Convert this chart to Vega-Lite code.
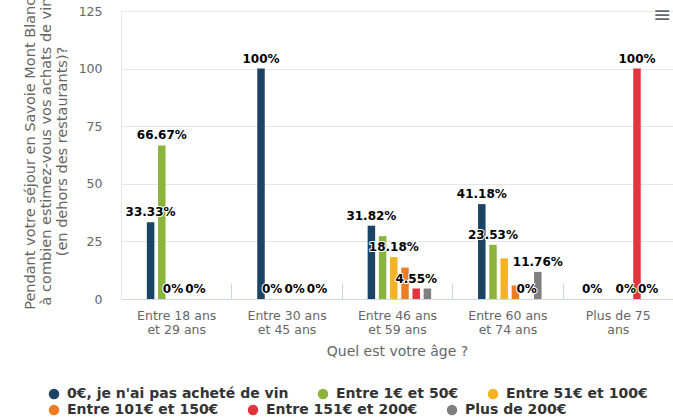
{
  "$schema": "https://vega.github.io/schema/vega-lite/v6.json",
  "width": 552,
  "height": 288,
  "autosize": {"type": "none"},
  "padding": {"left": 121, "top": 11, "right": 0, "bottom": 119},
  "background": "white",
  "config": {
    "font": "DejaVu Sans",
    "view": {"stroke": null},
    "title": {"fontWeight": "normal"}
  },
  "title": {"text": "≡", "anchor": "end", "fontSize": 22, "color": "#666666", "dy": 38, "dx": -2},
  "data": {
    "values": [
      {"age": "Entre 18 ans et 29 ans", "spend": "0€, je n'ai pas acheté de vin", "value": 33.33, "show": true},
      {"age": "Entre 18 ans et 29 ans", "spend": "Entre 1€ et 50€", "value": 66.67, "show": true},
      {"age": "Entre 18 ans et 29 ans", "spend": "Entre 51€ et 100€", "value": 0, "show": true},
      {"age": "Entre 18 ans et 29 ans", "spend": "Entre 101€ et 150€", "value": 0, "show": false},
      {"age": "Entre 18 ans et 29 ans", "spend": "Entre 151€ et 200€", "value": 0, "show": true},
      {"age": "Entre 18 ans et 29 ans", "spend": "Plus de 200€", "value": 0, "show": false},
      {"age": "Entre 30 ans et 45 ans", "spend": "0€, je n'ai pas acheté de vin", "value": 100, "show": true},
      {"age": "Entre 30 ans et 45 ans", "spend": "Entre 1€ et 50€", "value": 0, "show": true},
      {"age": "Entre 30 ans et 45 ans", "spend": "Entre 51€ et 100€", "value": 0, "show": false},
      {"age": "Entre 30 ans et 45 ans", "spend": "Entre 101€ et 150€", "value": 0, "show": true},
      {"age": "Entre 30 ans et 45 ans", "spend": "Entre 151€ et 200€", "value": 0, "show": false},
      {"age": "Entre 30 ans et 45 ans", "spend": "Plus de 200€", "value": 0, "show": true},
      {"age": "Entre 46 ans et 59 ans", "spend": "0€, je n'ai pas acheté de vin", "value": 31.82, "show": true},
      {"age": "Entre 46 ans et 59 ans", "spend": "Entre 1€ et 50€", "value": 27.27, "show": false},
      {"age": "Entre 46 ans et 59 ans", "spend": "Entre 51€ et 100€", "value": 18.18, "show": true},
      {"age": "Entre 46 ans et 59 ans", "spend": "Entre 101€ et 150€", "value": 13.64, "show": false},
      {"age": "Entre 46 ans et 59 ans", "spend": "Entre 151€ et 200€", "value": 4.55, "show": true},
      {"age": "Entre 46 ans et 59 ans", "spend": "Plus de 200€", "value": 4.55, "show": false},
      {"age": "Entre 60 ans et 74 ans", "spend": "0€, je n'ai pas acheté de vin", "value": 41.18, "show": true},
      {"age": "Entre 60 ans et 74 ans", "spend": "Entre 1€ et 50€", "value": 23.53, "show": true},
      {"age": "Entre 60 ans et 74 ans", "spend": "Entre 51€ et 100€", "value": 17.65, "show": false},
      {"age": "Entre 60 ans et 74 ans", "spend": "Entre 101€ et 150€", "value": 5.88, "show": false},
      {"age": "Entre 60 ans et 74 ans", "spend": "Entre 151€ et 200€", "value": 0, "show": true},
      {"age": "Entre 60 ans et 74 ans", "spend": "Plus de 200€", "value": 11.76, "show": true},
      {"age": "Plus de 75 ans", "spend": "0€, je n'ai pas acheté de vin", "value": 0, "show": true},
      {"age": "Plus de 75 ans", "spend": "Entre 1€ et 50€", "value": 0, "show": false},
      {"age": "Plus de 75 ans", "spend": "Entre 51€ et 100€", "value": 0, "show": false},
      {"age": "Plus de 75 ans", "spend": "Entre 101€ et 150€", "value": 0, "show": true},
      {"age": "Plus de 75 ans", "spend": "Entre 151€ et 200€", "value": 100, "show": true},
      {"age": "Plus de 75 ans", "spend": "Plus de 200€", "value": 0, "show": true}
    ]
  },
  "transform": [{"calculate": "format(datum.value, '.2~f') + '%'", "as": "label"}],
  "encoding": {
    "x": {
      "field": "age",
      "type": "nominal",
      "sort": ["Entre 18 ans et 29 ans", "Entre 30 ans et 45 ans", "Entre 46 ans et 59 ans", "Entre 60 ans et 74 ans", "Plus de 75 ans"],
      "scale": {"paddingInner": 0, "paddingOuter": 0},
      "axis": {
        "title": "Quel est votre âge ?",
        "titleFontSize": 14,
        "titleColor": "#666666",
        "titleFontWeight": "normal",
        "titlePadding": 9,
        "labelAngle": 0,
        "labelFontSize": 12.5,
        "labelColor": "#666666",
        "labelLineHeight": 14,
        "labelPadding": 26,
        "labelLimit": 300,
        "labelExpr": "split(replace(replace(datum.label, ' et ', '|et '), ' 75 ', ' 75|'), '|')",
        "tickBand": "extent",
        "tickSize": -16,
        "tickColor": "#ccd6eb",
        "domainColor": "#ccd6eb",
        "grid": false
      }
    },
    "xOffset": {
      "field": "spend",
      "type": "nominal",
      "sort": ["0€, je n'ai pas acheté de vin", "Entre 1€ et 50€", "Entre 51€ et 100€", "Entre 101€ et 150€", "Entre 151€ et 200€", "Plus de 200€"],
      "scale": {"range": [24, 91.2], "paddingInner": 0.33, "paddingOuter": 0.165}
    },
    "y": {
      "field": "value",
      "type": "quantitative",
      "scale": {"domain": [0, 125], "nice": false},
      "axis": {
        "values": [0, 25, 50, 75, 100, 125],
        "title": ["Pendant votre séjour en Savoie Mont Blanc,", "à combien estimez-vous vos achats de vin", "(en dehors des restaurants)?"],
        "titleFontSize": 14.5,
        "titleColor": "#666666",
        "titleFontWeight": "normal",
        "titleLineHeight": 16,
        "titleBaseline": "middle",
        "titleAlign": "center",
        "titleX": -91,
        "titleY": 140,
        "labelFontSize": 12.5,
        "labelColor": "#666666",
        "labelPadding": 19,
        "ticks": false,
        "domain": true,
        "domainColor": "#e6e6e6",
        "gridColor": "#e6e6e6"
      }
    }
  },
  "layer": [
    {
      "mark": {"type": "bar"},
      "encoding": {
        "color": {
          "field": "spend",
          "type": "nominal",
          "sort": ["0€, je n'ai pas acheté de vin", "Entre 1€ et 50€", "Entre 51€ et 100€", "Entre 101€ et 150€", "Entre 151€ et 200€", "Plus de 200€"],
          "scale": {
            "domain": ["0€, je n'ai pas acheté de vin", "Entre 1€ et 50€", "Entre 51€ et 100€", "Entre 101€ et 150€", "Entre 151€ et 200€", "Plus de 200€"],
            "range": ["#1b4364", "#8cb43a", "#f4b224", "#ef7b22", "#e0353d", "#7f7f7f"]
          },
          "legend": {
            "title": null,
            "values": ["0€, je n'ai pas acheté de vin", "Entre 1€ et 50€", "Entre 51€ et 100€"],
            "orient": "none",
            "legendX": -74,
            "legendY": 376,
            "direction": "horizontal",
            "columns": 3,
            "columnPadding": 27,
            "symbolType": "circle",
            "symbolSize": 110,
            "symbolStrokeWidth": 0,
            "symbolOpacity": 1,
            "labelOffset": 6,
            "labelFontSize": 14,
            "labelFontWeight": "bold",
            "labelColor": "#333333",
            "labelLimit": 400
          }
        }
      }
    },
    {
      "transform": [{"filter": {"field": "spend", "oneOf": ["Entre 101€ et 150€", "Entre 151€ et 200€", "Plus de 200€"]}}],
      "mark": {"type": "point", "filled": true, "opacity": 0},
      "encoding": {
        "fill": {
          "field": "spend",
          "type": "nominal",
          "scale": {
            "domain": ["Entre 101€ et 150€", "Entre 151€ et 200€", "Plus de 200€"],
            "range": ["#ef7b22", "#e0353d", "#7f7f7f"]
          },
          "legend": {
            "title": null,
            "orient": "none",
            "legendX": -74,
            "legendY": 392,
            "direction": "horizontal",
            "columns": 3,
            "columnPadding": 27,
            "symbolType": "circle",
            "symbolSize": 110,
            "symbolStrokeWidth": 0,
            "symbolOpacity": 1,
            "labelOffset": 6,
            "labelFontSize": 14,
            "labelFontWeight": "bold",
            "labelColor": "#333333",
            "labelLimit": 400
          }
        }
      }
    },
    {
      "transform": [{"filter": "datum.show"}],
      "mark": {"type": "text", "baseline": "bottom", "dy": -3, "fontWeight": "bold", "fontSize": 12, "fill": "white", "stroke": "white", "strokeWidth": 2, "strokeJoin": "round"},
      "encoding": {"text": {"field": "label"}}
    },
    {
      "transform": [{"filter": "datum.show"}],
      "mark": {"type": "text", "baseline": "bottom", "dy": -3, "fontWeight": "bold", "fontSize": 12, "fill": "#000000"},
      "encoding": {"text": {"field": "label"}}
    }
  ]
}
